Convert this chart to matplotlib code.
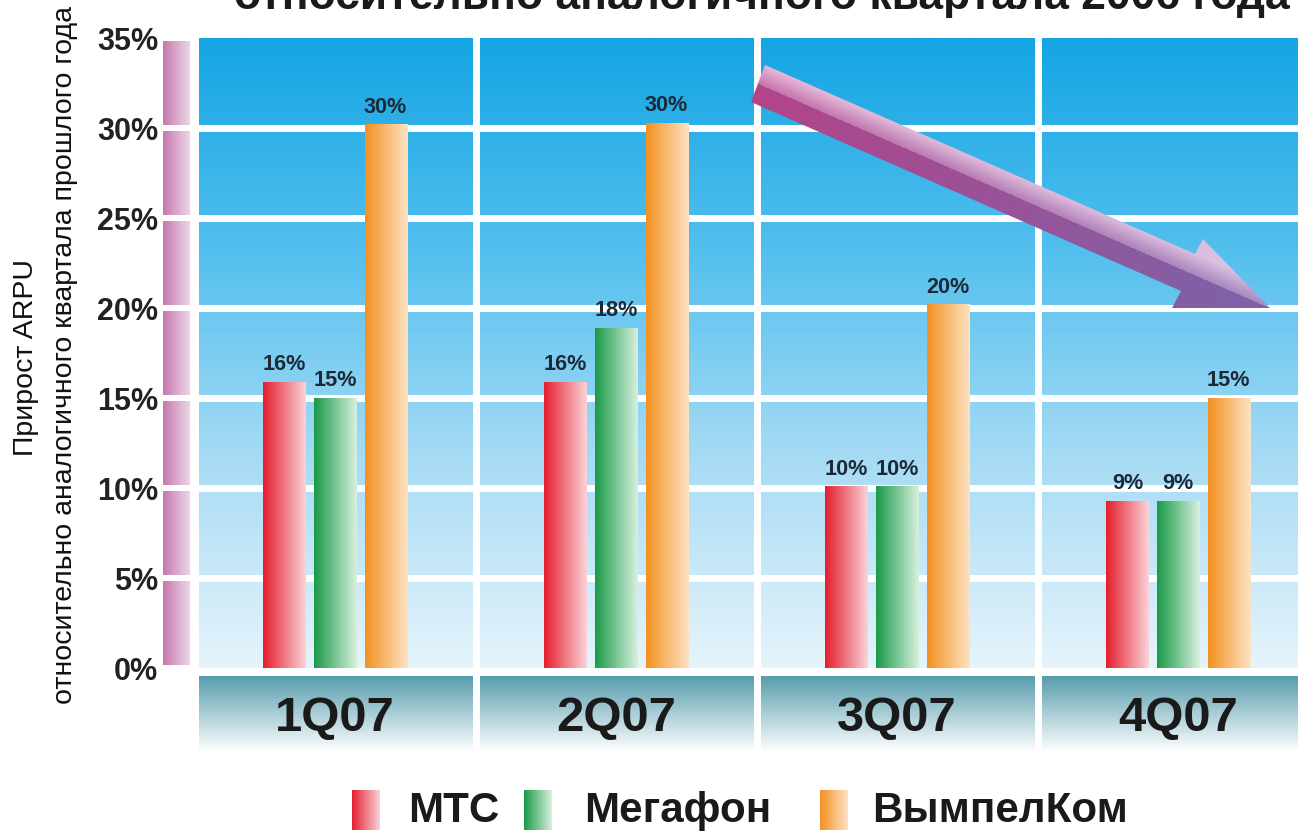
import numpy as np
import matplotlib
matplotlib.use('Agg')
import matplotlib.pyplot as plt
from matplotlib import font_manager as fm
from matplotlib.colors import LinearSegmentedColormap, to_rgb
from matplotlib.patches import Rectangle, Polygon

# ---------------- data ----------------
quarters = ['1Q07', '2Q07', '3Q07', '4Q07']
companies = ['МТС', 'Мегафон', 'ВымпелКом']
mts = [15.9, 15.9, 10.1, 9.3]
megafon = [15.0, 18.9, 10.1, 9.3]
vimpelcom = [30.2, 30.3, 20.2, 15.0]
mts_lbl = ['16%', '16%', '10%', '9%']
megafon_lbl = ['15%', '18%', '10%', '9%']
vimpelcom_lbl = ['30%', '30%', '20%', '15%']
yticks = [0, 5, 10, 15, 20, 25, 30, 35]

title = 'относительно аналогичного квартала 2006 года'
ylabel1 = 'Прирост ARPU'
ylabel2 = 'относительно аналогичного квартала прошлого года'

# condensed face if there is one, Arial-like otherwise
_names = {f.name for f in fm.fontManager.ttflist}
if 'Liberation Sans Narrow' in _names:
    NARROW, SCALE = ['Liberation Sans Narrow', 'DejaVu Sans'], 1.0
else:
    NARROW, SCALE = ['Liberation Sans', 'DejaVu Sans'], 0.82
ARIAL = ['Liberation Sans', 'DejaVu Sans']
W, H = 1298, 835

bar_cols = [('#e41e2d', '#fbd3d8'), ('#1a9a48', '#d8f0de'), ('#f39120', '#fde3c4')]


def fig_box(x0, y0, x1, y1):
    # pixel box (origin top-left) -> figure fraction rect
    return [x0 / W, 1 - y1 / H, (x1 - x0) / W, (y1 - y0) / H]


def grad(ax, patch, extent, c1, c2, vertical=False, z=2):
    cmap = LinearSegmentedColormap.from_list('g', [c1, c2])
    g = np.linspace(0, 1, 256)
    g = g.reshape(-1, 1) if vertical else g.reshape(1, -1)
    im = ax.imshow(g, cmap=cmap, extent=extent, aspect='auto',
                   origin='upper', interpolation='bilinear', zorder=z)
    im.set_clip_path(patch)
    return im


fig = plt.figure(figsize=(W / 100, H / 100), dpi=100)
fig.patch.set_facecolor('white')

# ---------------- main plot ----------------
xl = (-0.484, 3.427)
ax = fig.add_axes(fig_box(199, 38, 1298, 668))
bg = LinearSegmentedColormap.from_list('bg', ['#14a5e3', '#52bfee', '#a6dbf4', '#e6f4fb'])
ax.imshow(np.linspace(0, 1, 256).reshape(-1, 1), cmap=bg, extent=[xl[0], xl[1], 0, 35],
          aspect='auto', origin='upper', zorder=0)
for t in yticks[1:-1]:
    ax.axhline(t, color='white', lw=5, zorder=1)
for b in [0.5, 1.5, 2.5]:
    ax.axvline(b, color='white', lw=5, zorder=1)

x = np.arange(len(quarters))
series = [(mts, mts_lbl), (megafon, megafon_lbl), (vimpelcom, vimpelcom_lbl)]
offsets = [-0.18, 0.0, 0.18]
bw = 0.15
for (vals, lbls), off, (c1, c2) in zip(series, offsets, bar_cols):
    bars = ax.bar(x + off, vals, bw, color='none', edgecolor='none', zorder=3)
    for bar, v, lb in zip(bars, vals, lbls):
        x0 = bar.get_x()
        grad(ax, bar, [x0, x0 + bw, 0, v], c1, c2, z=3)
        ax.text(x0 + bw / 2, v + 0.65, lb, ha='center', va='baseline', fontsize=19 * SCALE,
                fontweight='bold', family=NARROW, color='#1c2a38', zorder=4)

ax.set_xlim(*xl)
ax.set_ylim(0, 35)
ax.set_xticks([])
ax.set_yticks(yticks)
ax.set_yticklabels([f'{t}%' for t in yticks], fontsize=22, fontweight='bold',
                   family=ARIAL, color='#222222')
ax.tick_params(axis='y', length=0, pad=29.5)
for s in ax.spines.values():
    s.set_visible(False)

# ---------------- category band ----------------
axc = fig.add_axes(fig_box(199, 676, 1298, 752))
rect = Rectangle((xl[0], 0), xl[1] - xl[0], 1, transform=axc.transData)
grad(axc, rect, [xl[0], xl[1], 0, 1], '#579dad', '#ffffff', vertical=True, z=0)
for b in [0.5, 1.5, 2.5]:
    axc.axvline(b, color='white', lw=5, zorder=1)
for i, q in enumerate(quarters):
    axc.text(i, 0.44, q, ha='center', va='center', fontsize=43 * SCALE, fontweight='bold',
             family=NARROW, color='#1a1a1a', zorder=2)
axc.set_xlim(*xl)
axc.set_ylim(0, 1)
axc.axis('off')

# ---------------- overlay (pixel coords) ----------------
ov = fig.add_axes([0, 0, 1, 1])
ov.set_xlim(0, W)
ov.set_ylim(H, 0)
ov.axis('off')

# pink strip along the y axis
for t in yticks[:-1]:
    y_top = 668 - (t + 5) * 18 + 3
    y_bot = 668 - t * 18 - 3
    r = Rectangle((163, y_top), 27, y_bot - y_top, facecolor='none', edgecolor='none')
    ov.add_patch(r)
    grad(ov, r, [163, 190, y_bot, y_top], '#c679ae', '#ecd5e8', z=2)

# y label
ov.text(26, 358, ylabel1, rotation=90, ha='center', va='center', fontsize=25 * SCALE,
        family=NARROW, color='#111111')
ov.text(65, 355, ylabel2, rotation=90, ha='center', va='center', fontsize=25 * SCALE,
        family=NARROW, color='#111111')

# clipped title at the top
ov.text(762, 9, title, ha='center', va='baseline', fontsize=39 * SCALE, fontweight='bold',
        family=NARROW, color='#1a1a1a')

# big trend arrow
pts = np.array([(765, 65), (1195, 254), (1203, 239), (1270, 308),
                (1172, 308), (1181, 291), (751, 102)], float)
arrow = Polygon(pts, closed=True, facecolor='none', edgecolor='none')
ov.add_patch(arrow)
xa0, xa1 = 745, 1275
ya0, ya1 = 60, 312
gx, gy = np.meshgrid(np.arange(xa0, xa1), np.arange(ya0, ya1))
p0 = np.array([758.0, 83.5])
d = np.array([1270.0, 308.0]) - p0
L = np.hypot(*d)
u = d / L
nrm = np.array([-u[1], u[0]])
tt = np.clip(((gx - p0[0]) * u[0] + (gy - p0[1]) * u[1]) / L, 0, 1)
dd = (gx - p0[0]) * nrm[0] + (gy - p0[1]) * nrm[1]
ca = np.array(to_rgb('#b3448a'))
cb = np.array(to_rgb('#7c63a9'))
base = ca[None, None, :] * (1 - tt[..., None]) + cb[None, None, :] * tt[..., None]
light = np.where(dd < 0, 0.3 + 0.45 * np.clip(-dd / 20, 0, 1), 0.0)
img = base * (1 - light[..., None]) + np.array([0.97, 0.88, 0.96]) * light[..., None]
im = ov.imshow(img, extent=[xa0, xa1, ya1, ya0], aspect='auto', origin='upper',
               interpolation='bilinear', zorder=5)
im.set_clip_path(arrow)

# legend
leg_sq = [352, 524, 820]
leg_tx = [408, 584, 872]
for name, sx, tx, (c1, c2) in zip(companies, leg_sq, leg_tx, bar_cols):
    r = Rectangle((sx, 790), 28, 40, facecolor='none', edgecolor='none')
    ov.add_patch(r)
    grad(ov, r, [sx, sx + 28, 830, 790], c1, c2, z=2)
    ov.text(tx, 811, name, ha='left', va='center', fontsize=37 * SCALE, fontweight='bold',
            family=NARROW, color='#1a1a1a')

ov.set_xlim(0, W)
ov.set_ylim(H, 0)

fig.savefig('out.png', dpi=100)
